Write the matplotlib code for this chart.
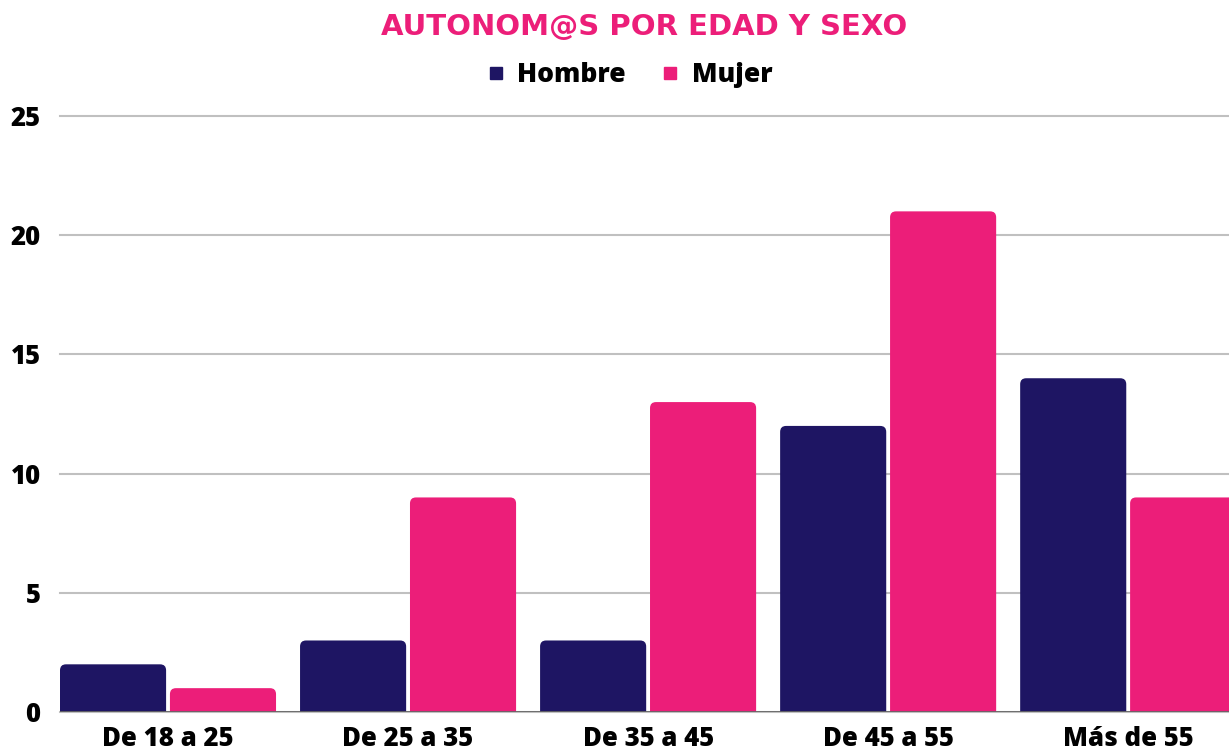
import matplotlib
matplotlib.use("Agg")
import matplotlib.pyplot as plt
from matplotlib.patches import FancyBboxPatch
from matplotlib.lines import Line2D
import numpy as np

categories = ["De 18 a 25", "De 25 a 35", "De 35 a 45", "De 45 a 55", "Más de 55"]
hombre = [2, 3, 3, 12, 14]
mujer = [1, 9, 13, 21, 9]

NAVY = "#1e1563"
PINK = "#ec1e79"

plt.rcParams["font.family"] = ["Open Sans", "DejaVu Sans"]

W, H = 1229, 752
fig = plt.figure(figsize=(W / 100, H / 100), dpi=100)
ax = fig.add_axes([60 / W, 40 / H, 1 - 60 / W, 596 / H])

x = np.arange(len(categories))
width = 0.442
off = 0.229
b1 = ax.bar(x - off, hombre, width, color=NAVY)
b2 = ax.bar(x + off, mujer, width, color=PINK)

ax.set_xlim(-0.45, 4.42)
ax.set_ylim(0, 25)

# rounded top corners: swap each bar for a rounded box that extends below zero
px_x = (W - 60) / (4.42 + 0.45)
px_y = 596 / 25
r = 6 / px_x
for bars in (b1, b2):
    for p in bars:
        p.set_visible(False)
        bx, by = p.get_x(), p.get_y()
        bw, bh = p.get_width(), p.get_height()
        fb = FancyBboxPatch((bx, by - 1), bw, bh + 1,
                            boxstyle=f"round,pad=0,rounding_size={r}",
                            mutation_aspect=px_x / px_y,
                            facecolor=p.get_facecolor(), edgecolor="none",
                            clip_on=True, zorder=2)
        ax.add_patch(fb)

ax.set_yticks([0, 5, 10, 15, 20, 25])
ax.yaxis.grid(True, color="#c0c0c0", linewidth=1.5, zorder=0)
ax.set_axisbelow(True)
for g in ax.yaxis.get_gridlines():
    g.set_clip_on(False)
ax.axhline(0, color="#666666", linewidth=2, zorder=3)

for s in ax.spines.values():
    s.set_visible(False)
ax.tick_params(length=0)
ax.tick_params(axis="y", pad=14, labelsize=18.5)
ax.tick_params(axis="x", pad=10, labelsize=18.5)
ax.set_xticks(x)
ax.set_xticklabels(categories)
for lab in ax.get_xticklabels() + ax.get_yticklabels():
    lab.set_fontweight(800)

fig.text(644 / W, 1 - 27 / H, "AUTONOM@S POR EDAD Y SEXO", color=PINK,
         fontsize=21, fontweight="bold", ha="center", va="center",
         family=["DejaVu Sans"])

handles = [Line2D([], [], marker="s", linestyle="none", color=NAVY, markersize=9),
           Line2D([], [], marker="s", linestyle="none", color=PINK, markersize=9)]
leg = fig.legend(handles, ["Hombre", "Mujer"], loc="center",
                 bbox_to_anchor=(630 / W, 1 - 75 / H), ncol=2, frameon=False,
                 handlelength=0.6, handletextpad=0.5, columnspacing=1.4,
                 prop={"size": 19, "weight": 800})

fig.savefig("out.png", dpi=100)
